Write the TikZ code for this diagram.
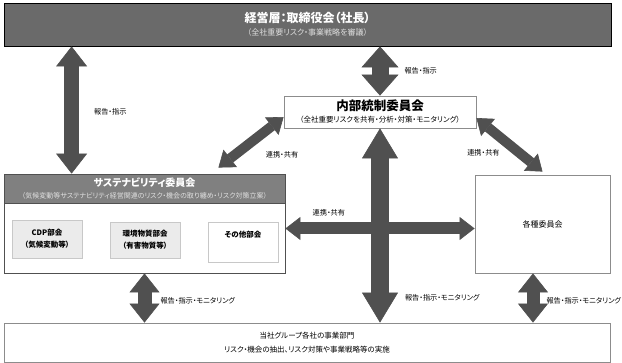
\documentclass[tikz,border=0pt]{standalone}
\usepackage{fontspec}
\setmainfont{Noto Sans CJK JP}[RawFeature=+palt]
\usetikzlibrary{arrows.meta}

\definecolor{boardgray}{HTML}{6A6A6A}
\definecolor{headgray}{HTML}{808080}
\definecolor{arrowgray}{HTML}{505050}
\definecolor{linegray}{HTML}{8C8C8C}
\definecolor{subfill}{HTML}{EBEBEB}
\definecolor{subline}{HTML}{C8C8C8}
\definecolor{paletext}{HTML}{E0E0E0}

\begin{document}
\begin{tikzpicture}[
x=1pt, y=-1pt,
box/.style={draw=linegray, fill=white, line width=0.8pt, inner sep=1pt, align=center},
subbox/.style={draw=subline, fill=subfill, line width=0.8pt, minimum width=70pt, align=center, inner sep=1pt, font=\fontsize{7.5}{12}\selectfont\bfseries},
lbl/.style={font=\fontsize{7.2}{8}\selectfont, inner sep=1pt},
blockarrow/.style n args={3}{draw=arrowgray, line width=#1,
  {Triangle[length=#2,width=#3,line width=0.6pt]}-{Triangle[length=#2,width=#3,line width=0.6pt]}} ]

\useasboundingbox (0,0) rectangle (622,363);

\node[box, draw=black, fill=boardgray, text=white, minimum width=607pt, minimum height=43pt] (board) at (307.5,24.5)
  {{\bfseries\fontsize{12}{14}\selectfont 経営層：取締役会（社長）}\\[1pt]
   {\fontsize{8}{9}\selectfont\color{paletext}（全社重要リスク・事業戦略を審議）}};

\node[box, minimum width=192pt, minimum height=32pt] (ctrl) at (380,112)
  {{\bfseries\fontsize{12.5}{13}\selectfont 内部統制委員会}\\
   {\fontsize{7.5}{8}\selectfont （全社重要リスクを共有・分析・対策・モニタリング）}};

\node[box, draw=arrowgray, minimum width=281pt, minimum height=99pt] (sus) at (144.5,223.5) {};
\node[box, draw=arrowgray, fill=headgray, text=white, anchor=north, minimum width=281pt, minimum height=29pt] (sushead) at (sus.north)
  {{\bfseries\fontsize{10}{12}\selectfont サステナビリティ委員会}\\
   {\fontsize{7}{8}\selectfont\color{paletext}（気候変動等サステナビリティ経営関連のリスク・機会の取り纏め・リスク対策立案）}};

\node[subbox, minimum height=38pt] (cdp) at (47,239) {CDP部会\\（気候変動等）};
\node[subbox, minimum height=36pt] (env) at (145,240) {環境物質部会\\（有害物質等）};
\node[subbox, fill=white, minimum height=40pt] (other) at (243,242) {その他部会\\ \strut};

\node[box, minimum width=135pt, minimum height=98pt, font=\fontsize{8}{9}\selectfont] (various) at (542.5,224) {各種委員会};

\node[box, minimum width=606pt, minimum height=39pt, font=\fontsize{7.5}{14}\selectfont] (biz) at (307,342.5)
  {当社グループ各社の事業部門\\リスク・機会の抽出、リスク対策や事業戦略等の実施};

\coordinate (lefttop) at ([xshift=68pt]sus.north west);
\coordinate (vsouth) at ([xshift=-9.5pt]various.south);

% vertical arrows
\draw[blockarrow={15pt}{20pt}{31pt}] (lefttop |- board.south) -- node[lbl, anchor=west, xshift=14pt, yshift=-2pt] {報告・指示} (lefttop);
\draw[blockarrow={17pt}{21pt}{37pt}] (ctrl.north |- board.south) -- node[lbl, anchor=west, xshift=15pt] {報告・指示} (ctrl.north);
\draw[blockarrow={18pt}{30pt}{36pt}] (ctrl.south) -- node[lbl, pos=0.87, anchor=west, xshift=15pt] {報告・指示・モニタリング} (ctrl.south |- biz.north);
\draw[blockarrow={14pt}{19pt}{30pt}] (sus.south) -- node[lbl, pos=0.56, anchor=west, xshift=8pt] {報告・指示・モニタリング} (sus.south |- biz.north);
\draw[blockarrow={13pt}{19pt}{30pt}] (vsouth) -- node[lbl, pos=0.56, anchor=west, xshift=6pt] {報告・指示・モニタリング} (vsouth |- biz.north);

% links
\draw[blockarrow={12pt}{15pt}{23pt}] ([yshift=-5pt]sus.east) -- node[lbl, pos=0.23, above=5pt] {連携・共有} ([yshift=-5pt]sus.east -| various.west);
\draw[blockarrow={10pt}{15pt}{22pt}] ([xshift=-67pt,yshift=6pt]sus.north east) -- node[lbl, xshift=31pt, yshift=-12pt] {連携・共有} ([yshift=-5pt]ctrl.west);
\draw[blockarrow={10pt}{15pt}{22pt}] ([yshift=-6pt]ctrl.east) -- node[lbl, xshift=-26pt, yshift=-8pt] {連携・共有} ([yshift=3pt]various.north);

\end{tikzpicture}
\end{document}
